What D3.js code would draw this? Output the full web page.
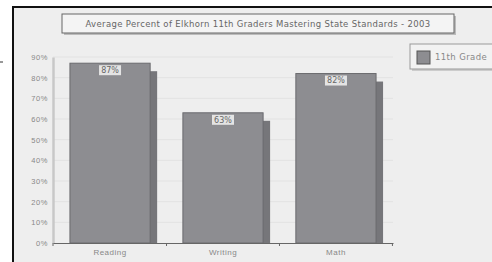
<!DOCTYPE html>
<html>
<head>
<meta charset="utf-8">
<script src="https://cdn.jsdelivr.net/npm/d3@7"></script>
<style>
  body { margin: 0; background: #fff; }
  svg { display: block; font-family: "DejaVu Sans", sans-serif; }
</style>
</head>
<body>
<svg id="chart" width="492" height="262"></svg>
<script>
let subjects = ["Reading", "Writing", "Math"];
let percents = [87, 63, 82];
let pctLabels = ["87%", "63%", "82%"];
let yTicks = [0, 10, 20, 30, 40, 50, 60, 70, 80, 90];
let seriesName = "11th Grade";
let title = "Average Percent of Elkhorn 11th Graders Mastering State Standards - 2003";

let svg = d3.select("#chart"),
    margin = {top: 57, left: 53, right: 99, bottom: 19},
    width = 492 - margin.left - margin.right,
    height = 262 - margin.top - margin.bottom;

// frame + panel background
svg.append("rect").attr("x", 13).attr("y", 7).attr("width", 492).attr("height", 262)
    .attr("fill", "#eeeeee").attr("stroke", "#111").attr("stroke-width", 2);
svg.append("line").attr("x1", 0).attr("x2", 3).attr("y1", 62).attr("y2", 62)
    .attr("stroke", "#333");

let g = svg.append("g").attr("transform", "translate(" + margin.left + "," + margin.top + ")");

let scaleX = d3.scaleBand()
    .domain(subjects)
    .range([0, width])
    .paddingInner(0.29)
    .paddingOuter(0.15);

let scaleY = d3.scaleLinear()
    .domain([0, 90])
    .range([height, 0]);

// grid lines
g.selectAll(".grid")
    .data(yTicks.slice(1))
    .enter().append("line")
    .attr("x1", 0).attr("x2", width)
    .attr("y1", d => scaleY(d)).attr("y2", d => scaleY(d))
    .attr("stroke", "#e2e2e2");

// y axis
let yAxis = g.append("g")
    .call(d3.axisLeft(scaleY).tickValues(yTicks).tickFormat(d => d + "%").tickSize(0).tickPadding(5));
yAxis.select(".domain").attr("stroke", "#c8c8c8").attr("stroke-width", 2.5);
yAxis.selectAll("text").attr("fill", "#888").style("font-size", "7.5px").style("letter-spacing", "0.6px");

// shadows
g.selectAll(".shadow")
    .data(subjects)
    .enter().append("rect")
    .attr("x", d => scaleX(d) + 7)
    .attr("y", (d, i) => scaleY(percents[i]) + 8)
    .attr("width", scaleX.bandwidth())
    .attr("height", (d, i) => height - scaleY(percents[i]) - 8)
    .attr("fill", "#76767a");

// bars
g.selectAll(".bar")
    .data(subjects)
    .enter().append("rect")
    .attr("x", d => scaleX(d))
    .attr("y", (d, i) => scaleY(percents[i]))
    .attr("width", scaleX.bandwidth())
    .attr("height", (d, i) => height - scaleY(percents[i]))
    .attr("fill", "#8d8d91")
    .attr("stroke", "#6a6a6e")
    .attr("stroke-width", 1);

// value labels
subjects.forEach((d, i) => {
    let cx = scaleX(d) + scaleX.bandwidth() / 2,
        cy = scaleY(percents[i]) + 7;
    g.append("rect").attr("x", cx - 11).attr("y", cy - 5).attr("width", 22).attr("height", 10)
        .attr("fill", "#e4e4e4");
    g.append("text").attr("x", cx).attr("y", cy).attr("dy", "0.35em")
        .attr("text-anchor", "middle").attr("fill", "#666").style("font-size", "8px")
        .text(pctLabels[i]);
});

// x axis
let xAxis = g.append("g")
    .attr("transform", "translate(0," + height + ")")
    .call(d3.axisBottom(scaleX).tickSize(0).tickPadding(6));
xAxis.select(".domain").attr("stroke", "#666");
xAxis.selectAll("text").attr("fill", "#888").style("font-size", "8px").style("letter-spacing", "0.5px");
let bounds = [0].concat(subjects.map(d => scaleX(d) + scaleX.bandwidth() + scaleX.step() * scaleX.paddingInner() / 2));
g.selectAll(".xt")
    .data(bounds)
    .enter().append("line")
    .attr("x1", d => d).attr("x2", d => d)
    .attr("y1", height).attr("y2", height + 3)
    .attr("stroke", "#666");

// title box
let titleG = svg.append("g");
titleG.append("rect").attr("x", 64).attr("y", 16).attr("width", 392).attr("height", 19)
    .attr("fill", "#bbb");
titleG.append("rect").attr("x", 62).attr("y", 14).attr("width", 392).attr("height", 19)
    .attr("fill", "#f4f4f4").attr("stroke", "#666").attr("stroke-width", 1);
titleG.append("text").attr("x", 258).attr("y", 24).attr("dy", "0.35em")
    .attr("text-anchor", "middle").attr("fill", "#666").style("font-size", "8.5px")
    .style("letter-spacing", "0.35px")
    .text(title);

// legend
let leg = svg.append("g");
leg.append("rect").attr("x", 412).attr("y", 46).attr("width", 90).attr("height", 25).attr("fill", "#ccc");
leg.append("rect").attr("x", 410).attr("y", 44).attr("width", 90).attr("height", 25)
    .attr("fill", "#f2f2f2").attr("stroke", "#999");
leg.append("rect").attr("x", 417).attr("y", 51).attr("width", 13).attr("height", 13)
    .attr("fill", "#8d8d91").attr("stroke", "#555");
leg.append("text").attr("x", 435).attr("y", 57.5).attr("dy", "0.35em")
    .attr("fill", "#888").style("font-size", "8.5px").style("letter-spacing", "0.4px").text(seriesName);
</script>
</body>
</html>
